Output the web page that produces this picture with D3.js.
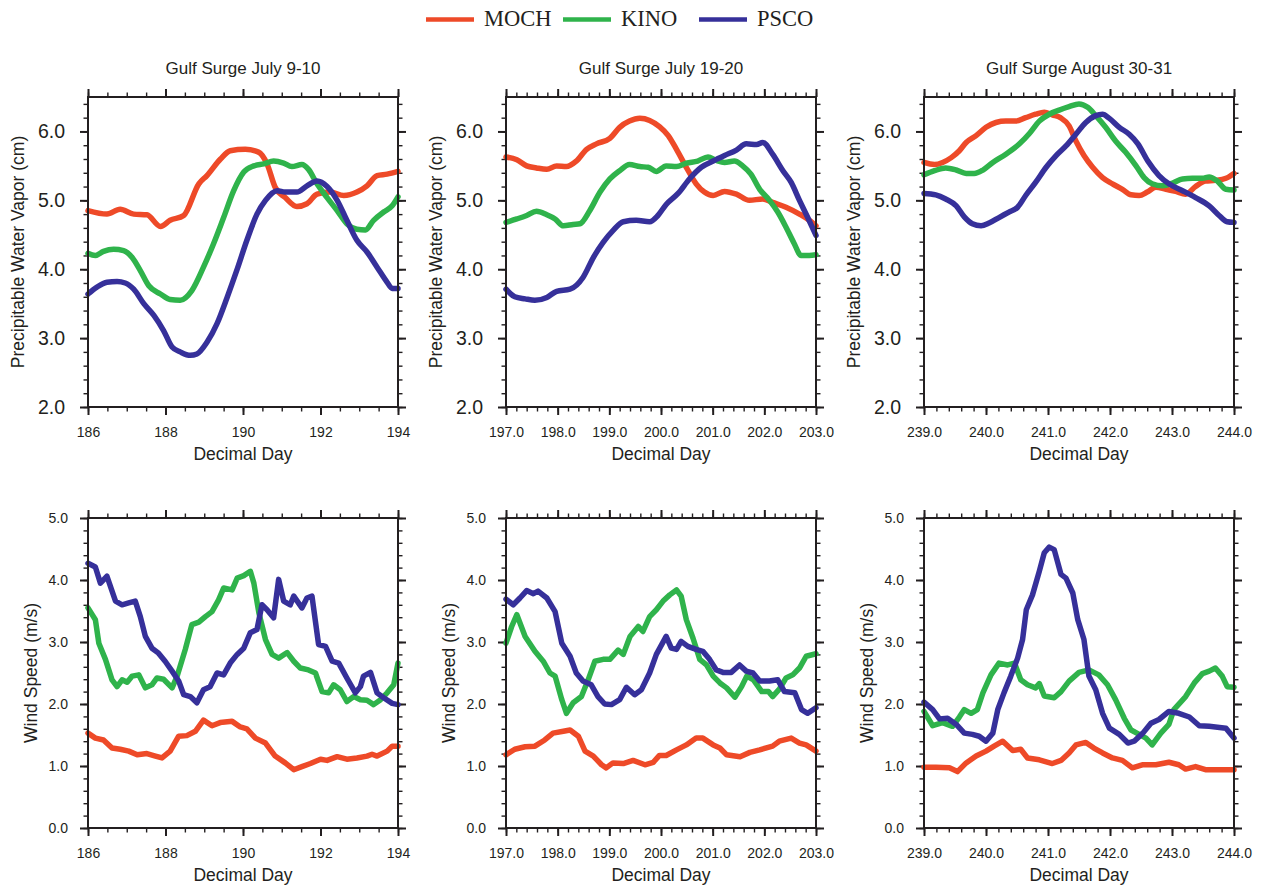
<!DOCTYPE html>
<html>
<head>
<meta charset="utf-8">
<script src="https://cdn.jsdelivr.net/npm/d3@7"></script>
<style>
  body { margin: 0; background: #fff; }
  text { font-family: "Liberation Sans", Arial, Helvetica, sans-serif; fill: #231f20; }
  text.legend { font-family: "Liberation Serif", "Times New Roman", serif; }
</style>
</head>
<body>
<svg id="chart" width="1264" height="885"></svg>
<script>
// stations + look
const stations = ["MOCH", "KINO", "PSCO"]
const colors = ["#ee4a28", "#2fb34b", "#36309a"]

// one column per surge event
const titles = ["Gulf Surge July 9-10", "Gulf Surge July 19-20", "Gulf Surge August 30-31"]
const dayRanges = [[186, 194], [197, 203], [239, 244]]
const dayMajorStep = [2, 1, 1]
const dayMinorStep = [0.5, 0.2, 0.2]
const dayFormats = ["d", ".1f", ".1f"]

const yTitles = ["Precipitable Water Vapor (cm)", "Wind Speed (m/s)"]
const yRanges = [[2, 6.5], [0, 5]]
const yMajor = [[2, 3, 4, 5, 6], [0, 1, 2, 3, 4, 5]]

// PRECIPITABLE WATER (cm), [day, value]
const mochPw1 = [[186,4.85],[186.49,4.80],[186.83,4.87],[187.18,4.80],[187.52,4.79],[187.87,4.62],[188.12,4.71],[188.47,4.78],[188.86,5.24],[189.07,5.36],[189.42,5.60],[189.67,5.72],[190.06,5.74],[190.40,5.70],[190.62,5.53],[190.83,5.19],[191.09,5.04],[191.39,4.91],[191.65,4.95],[191.91,5.09],[192.25,5.12],[192.60,5.07],[192.94,5.12],[193.20,5.21],[193.46,5.36],[193.72,5.38],[194,5.42]]
const kinoPw1 = [[186,4.23],[186.19,4.20],[186.40,4.26],[186.66,4.29],[186.92,4.27],[187.14,4.17],[187.35,3.98],[187.57,3.76],[187.87,3.64],[188.12,3.56],[188.38,3.55],[188.68,3.69],[188.98,4.03],[189.24,4.37],[189.50,4.75],[189.76,5.14],[190.02,5.41],[190.28,5.50],[190.54,5.53],[190.79,5.57],[191.05,5.54],[191.26,5.49],[191.52,5.52],[191.69,5.45],[191.91,5.24],[192.17,5.04],[192.43,4.85],[192.68,4.66],[192.94,4.58],[193.16,4.57],[193.37,4.71],[193.63,4.83],[193.85,4.92],[194,5.05]]
const pscoPw1 = [[186,3.64],[186.23,3.74],[186.49,3.81],[186.75,3.82],[186.96,3.80],[187.18,3.71],[187.44,3.50],[187.70,3.33],[187.95,3.11],[188.17,2.87],[188.38,2.80],[188.64,2.75],[188.81,2.77],[189.07,2.94],[189.33,3.21],[189.59,3.59],[189.85,4.00],[190.10,4.42],[190.36,4.80],[190.58,5.00],[190.88,5.14],[191.09,5.12],[191.39,5.12],[191.65,5.21],[191.91,5.28],[192.17,5.20],[192.43,5.00],[192.68,4.71],[192.94,4.42],[193.20,4.25],[193.46,4.03],[193.72,3.81],[193.85,3.72],[194,3.72]]

const mochPw2 = [[197,5.63],[197.21,5.59],[197.40,5.50],[197.59,5.47],[197.79,5.45],[197.98,5.50],[198.17,5.49],[198.36,5.57],[198.56,5.74],[198.75,5.82],[199.01,5.90],[199.20,6.06],[199.39,6.15],[199.59,6.19],[199.78,6.16],[199.97,6.07],[200.14,5.94],[200.30,5.74],[200.49,5.48],[200.68,5.24],[200.84,5.12],[201.01,5.07],[201.23,5.13],[201.46,5.09],[201.71,5.00],[201.97,5.02],[202.16,4.97],[202.42,4.90],[202.68,4.80],[202.87,4.71],[203,4.63]]
const kinoPw2 = [[197,4.68],[197.21,4.73],[197.40,4.78],[197.59,4.84],[197.79,4.79],[197.95,4.73],[198.11,4.63],[198.30,4.65],[198.43,4.66],[198.62,4.85],[198.82,5.12],[199.01,5.31],[199.20,5.43],[199.39,5.52],[199.59,5.49],[199.75,5.48],[199.91,5.42],[200.10,5.50],[200.30,5.49],[200.49,5.54],[200.71,5.57],[200.91,5.63],[201.07,5.58],[201.23,5.55],[201.42,5.57],[201.58,5.50],[201.74,5.38],[201.91,5.16],[202.10,5.00],[202.26,4.83],[202.42,4.61],[202.58,4.37],[202.71,4.20],[202.87,4.20],[203,4.21]]
const pscoPw2 = [[197,3.71],[197.17,3.60],[197.37,3.57],[197.56,3.55],[197.79,3.59],[197.98,3.68],[198.24,3.71],[198.49,3.88],[198.69,4.17],[198.88,4.39],[199.07,4.56],[199.27,4.69],[199.52,4.71],[199.78,4.69],[199.94,4.78],[200.10,4.94],[200.33,5.10],[200.55,5.31],[200.78,5.48],[201.01,5.57],[201.23,5.65],[201.46,5.73],[201.65,5.82],[201.85,5.81],[201.97,5.84],[202.16,5.67],[202.36,5.43],[202.52,5.26],[202.68,5.00],[202.84,4.75],[203,4.49]]

const mochPw3 = [[239,5.55],[239.17,5.52],[239.30,5.55],[239.44,5.62],[239.57,5.72],[239.68,5.84],[239.84,5.94],[240,6.06],[240.16,6.13],[240.32,6.15],[240.48,6.15],[240.64,6.20],[240.80,6.25],[240.94,6.28],[241.07,6.24],[241.20,6.20],[241.34,6.08],[241.45,5.86],[241.58,5.65],[241.72,5.48],[241.88,5.33],[242.04,5.24],[242.20,5.16],[242.34,5.08],[242.47,5.07],[242.60,5.12],[242.74,5.19],[242.90,5.16],[243.06,5.13],[243.22,5.09],[243.38,5.20],[243.54,5.28],[243.70,5.29],[243.87,5.32],[244,5.39]]
const kinoPw3 = [[239,5.37],[239.17,5.43],[239.35,5.47],[239.52,5.44],[239.68,5.39],[239.81,5.39],[239.95,5.44],[240.11,5.55],[240.32,5.67],[240.54,5.82],[240.70,5.97],[240.86,6.15],[241.02,6.25],[241.18,6.31],[241.34,6.36],[241.50,6.40],[241.64,6.35],[241.77,6.23],[241.93,6.06],[242.09,5.86],[242.25,5.70],[242.42,5.50],[242.55,5.33],[242.68,5.24],[242.85,5.21],[243.01,5.25],[243.17,5.31],[243.33,5.32],[243.49,5.32],[243.60,5.34],[243.73,5.28],[243.87,5.16],[244,5.15]]
const pscoPw3 = [[239,5.10],[239.19,5.08],[239.35,5.02],[239.52,4.92],[239.65,4.76],[239.78,4.66],[239.92,4.63],[240.05,4.67],[240.21,4.75],[240.37,4.83],[240.51,4.90],[240.64,5.07],[240.80,5.26],[240.97,5.48],[241.13,5.65],[241.29,5.79],[241.45,5.96],[241.61,6.13],[241.77,6.23],[241.88,6.25],[241.99,6.19],[242.15,6.06],[242.31,5.96],[242.45,5.82],[242.61,5.57],[242.79,5.36],[242.95,5.24],[243.17,5.14],[243.38,5.04],[243.60,4.92],[243.76,4.78],[243.89,4.69],[244,4.68]]

// WIND SPEED (m/s), [day, value]
const mochWs1 = [[186,1.53],[186.19,1.45],[186.40,1.42],[186.62,1.29],[186.83,1.27],[187.05,1.24],[187.27,1.18],[187.52,1.20],[187.74,1.16],[187.91,1.13],[188.12,1.24],[188.34,1.48],[188.55,1.49],[188.77,1.56],[188.98,1.74],[189.20,1.65],[189.41,1.70],[189.72,1.72],[189.93,1.63],[190.10,1.60],[190.32,1.45],[190.58,1.37],[190.83,1.16],[191.09,1.05],[191.31,0.94],[191.52,0.99],[191.74,1.04],[192,1.11],[192.17,1.09],[192.43,1.15],[192.68,1.11],[192.94,1.13],[193.20,1.16],[193.33,1.19],[193.46,1.16],[193.72,1.24],[193.85,1.32],[194,1.32]]
const kinoWs1 = [[186,3.55],[186.19,3.36],[186.28,2.98],[186.45,2.72],[186.62,2.39],[186.75,2.28],[186.88,2.39],[187.01,2.35],[187.14,2.45],[187.31,2.47],[187.48,2.26],[187.65,2.31],[187.78,2.42],[187.95,2.40],[188.17,2.26],[188.30,2.45],[188.51,2.88],[188.68,3.28],[188.86,3.32],[189.03,3.41],[189.20,3.49],[189.37,3.68],[189.50,3.87],[189.72,3.84],[189.85,4.03],[190.02,4.07],[190.19,4.14],[190.28,3.95],[190.41,3.47],[190.58,3.04],[190.75,2.80],[190.92,2.74],[191.14,2.83],[191.31,2.69],[191.48,2.58],[191.69,2.55],[191.87,2.50],[192.04,2.20],[192.21,2.18],[192.34,2.31],[192.51,2.23],[192.68,2.04],[192.86,2.12],[193.03,2.07],[193.20,2.06],[193.37,1.99],[193.55,2.07],[193.72,2.18],[193.89,2.31],[194,2.66]]
const pscoWs1 = [[186,4.27],[186.19,4.21],[186.32,3.95],[186.49,4.06],[186.71,3.66],[186.88,3.60],[187.05,3.63],[187.22,3.66],[187.35,3.41],[187.48,3.09],[187.65,2.90],[187.82,2.82],[187.99,2.69],[188.17,2.53],[188.34,2.37],[188.47,2.15],[188.64,2.12],[188.81,2.02],[188.98,2.23],[189.15,2.28],[189.33,2.50],[189.50,2.47],[189.67,2.66],[189.85,2.80],[190.02,2.90],[190.19,3.15],[190.36,3.20],[190.49,3.60],[190.62,3.52],[190.79,3.39],[190.92,4.01],[191.05,3.66],[191.22,3.60],[191.31,3.74],[191.52,3.55],[191.65,3.71],[191.78,3.74],[191.95,2.96],[192.13,2.93],[192.30,2.69],[192.47,2.66],[192.68,2.42],[192.90,2.18],[193.03,2.28],[193.11,2.45],[193.29,2.51],[193.46,2.18],[193.63,2.10],[193.85,2.01],[194,1.99]]

const mochWs2 = [[197,1.18],[197.17,1.27],[197.37,1.31],[197.56,1.32],[197.75,1.42],[197.91,1.53],[198.11,1.56],[198.24,1.58],[198.40,1.48],[198.53,1.24],[198.69,1.16],[198.85,1.02],[198.94,0.97],[199.07,1.05],[199.27,1.04],[199.46,1.09],[199.69,1.02],[199.85,1.06],[199.97,1.17],[200.10,1.17],[200.30,1.26],[200.49,1.34],[200.68,1.45],[200.81,1.45],[201.01,1.34],[201.14,1.29],[201.27,1.18],[201.53,1.15],[201.72,1.22],[201.91,1.26],[202.16,1.32],[202.29,1.40],[202.52,1.45],[202.68,1.37],[202.81,1.34],[203,1.24]]
const kinoWs2 = [[197,2.98],[197.11,3.25],[197.21,3.44],[197.37,3.09],[197.56,2.85],[197.72,2.69],[197.85,2.50],[197.95,2.45],[198.08,2.07],[198.17,1.85],[198.30,2.02],[198.46,2.12],[198.59,2.39],[198.72,2.69],[198.88,2.72],[199.01,2.72],[199.17,2.87],[199.27,2.80],[199.40,3.09],[199.56,3.25],[199.65,3.17],[199.78,3.41],[199.91,3.52],[200.04,3.66],[200.17,3.76],[200.30,3.84],[200.39,3.74],[200.49,3.36],[200.62,3.06],[200.75,2.72],[200.88,2.63],[201.01,2.45],[201.14,2.34],[201.27,2.26],[201.43,2.11],[201.56,2.28],[201.66,2.45],[201.79,2.39],[201.95,2.20],[202.08,2.20],[202.16,2.12],[202.29,2.24],[202.42,2.42],[202.55,2.47],[202.68,2.58],[202.81,2.77],[203,2.81]]
const pscoWs2 = [[197,3.69],[197.14,3.60],[197.27,3.71],[197.40,3.83],[197.53,3.78],[197.62,3.82],[197.79,3.71],[197.95,3.49],[198.08,2.98],[198.24,2.77],[198.36,2.50],[198.49,2.37],[198.65,2.31],[198.78,2.12],[198.91,2.00],[199.04,1.99],[199.20,2.07],[199.33,2.27],[199.49,2.15],[199.62,2.23],[199.78,2.50],[199.91,2.80],[200.10,3.09],[200.20,2.90],[200.30,2.88],[200.39,3.01],[200.52,2.93],[200.68,2.88],[200.81,2.85],[200.94,2.72],[201.07,2.55],[201.20,2.51],[201.36,2.51],[201.52,2.63],[201.65,2.53],[201.78,2.50],[201.91,2.37],[202.10,2.37],[202.26,2.39],[202.39,2.20],[202.59,2.18],[202.72,1.91],[202.84,1.85],[203,1.94]]

const mochWs3 = [[239,0.98],[239.19,0.98],[239.41,0.97],[239.54,0.91],[239.68,1.05],[239.84,1.16],[240,1.24],[240.13,1.32],[240.27,1.40],[240.43,1.25],[240.56,1.27],[240.67,1.13],[240.86,1.10],[241.07,1.04],[241.21,1.09],[241.34,1.21],[241.45,1.34],[241.61,1.38],[241.74,1.29],[241.88,1.21],[242.04,1.13],[242.20,1.09],[242.36,0.97],[242.52,1.02],[242.74,1.02],[242.95,1.06],[243.11,1.02],[243.22,0.95],[243.38,0.99],[243.54,0.94],[243.76,0.94],[244,0.94]]
const kinoWs3 = [[239,1.88],[239.14,1.65],[239.30,1.70],[239.46,1.64],[239.57,1.79],[239.65,1.91],[239.76,1.85],[239.86,1.91],[239.95,2.18],[240.08,2.47],[240.21,2.66],[240.35,2.63],[240.46,2.66],[240.56,2.39],[240.67,2.31],[240.80,2.26],[240.86,2.33],[240.94,2.13],[241.10,2.10],[241.21,2.20],[241.34,2.37],[241.50,2.51],[241.66,2.55],[241.82,2.47],[241.96,2.31],[242.09,2.07],[242.23,1.77],[242.34,1.58],[242.47,1.51],[242.58,1.45],[242.68,1.34],[242.82,1.53],[242.95,1.67],[243.03,1.91],[243.22,2.12],[243.36,2.34],[243.49,2.49],[243.60,2.53],[243.70,2.58],[243.81,2.45],[243.89,2.28],[244,2.27]]
const pscoWs3 = [[239,2.03],[239.14,1.91],[239.25,1.76],[239.38,1.77],[239.52,1.67],[239.65,1.53],[239.78,1.51],[239.89,1.48],[240,1.40],[240.11,1.53],[240.19,1.91],[240.29,2.18],[240.40,2.45],[240.51,2.74],[240.59,3.04],[240.65,3.52],[240.75,3.76],[240.86,4.14],[240.94,4.44],[241.02,4.53],[241.10,4.49],[241.21,4.09],[241.29,4.03],[241.40,3.79],[241.48,3.36],[241.58,3.04],[241.66,2.45],[241.77,2.23],[241.88,1.85],[241.99,1.61],[242.15,1.51],[242.29,1.37],[242.39,1.40],[242.53,1.53],[242.66,1.69],[242.79,1.75],[242.95,1.88],[243.11,1.85],[243.28,1.79],[243.44,1.65],[243.60,1.64],[243.70,1.63],[243.87,1.61],[244,1.45]]

const pwSeries = [[mochPw1, kinoPw1, pscoPw1], [mochPw2, kinoPw2, pscoPw2], [mochPw3, kinoPw3, pscoPw3]]
const wsSeries = [[mochWs1, kinoWs1, pscoWs1], [mochWs2, kinoWs2, pscoWs2], [mochWs3, kinoWs3, pscoWs3]]

// LAYOUT
const colLeft = [88, 506, 924]
const rowTop = [97, 518]
const W = 310, H = 310

const svg = d3.select("#chart")

function styleAxis(g, tickW) {
  g.select(".domain").remove()
  g.selectAll(".tick line").attr("stroke", "#231f20").attr("stroke-width", tickW)
}

function panel(row, col) {
  const g = svg.append("g").attr("transform", `translate(${colLeft[col]},${rowTop[row]})`)
  const x = d3.scaleLinear().domain(dayRanges[col]).range([0, W])
  const y = d3.scaleLinear().domain(yRanges[row]).range([H, 0])

  const xMaj = d3.range(dayRanges[col][0], dayRanges[col][1] + 1e-6, dayMajorStep[col])
  const xMin = d3.range(dayRanges[col][0], dayRanges[col][1] + 1e-6, dayMinorStep[col])
  const yMin = d3.range(yRanges[row][0], yRanges[row][1] + 1e-6, 0.2)

  // minor ticks on all four sides
  g.append("g").attr("transform", `translate(0,${H})`)
    .call(d3.axisBottom(x).tickValues(xMin).tickSize(4.5).tickFormat("")).call(a => styleAxis(a, 1.4))
  g.append("g")
    .call(d3.axisTop(x).tickValues(xMin).tickSize(4.5).tickFormat("")).call(a => styleAxis(a, 1.4))
  g.append("g")
    .call(d3.axisLeft(y).tickValues(yMin).tickSize(4.5).tickFormat("")).call(a => styleAxis(a, 1.4))
  g.append("g").attr("transform", `translate(${W},0)`)
    .call(d3.axisRight(y).tickValues(yMin).tickSize(4.5).tickFormat("")).call(a => styleAxis(a, 1.4))

  // major ticks
  const bottom = g.append("g").attr("transform", `translate(0,${H})`)
    .call(d3.axisBottom(x).tickValues(xMaj).tickSize(8).tickPadding(12).tickFormat(d3.format(dayFormats[col])))
    .call(a => styleAxis(a, 2))
  bottom.selectAll("text").attr("font-size", 14).attr("font-family", null)
  g.append("g")
    .call(d3.axisTop(x).tickValues(xMaj).tickSize(8).tickFormat("")).call(a => styleAxis(a, 2))
  const left = g.append("g")
    .call(d3.axisLeft(y).tickValues(yMajor[row]).tickSize(8)
      .tickPadding(row === 0 ? 15 : 12).tickFormat(d3.format(".1f")))
    .call(a => styleAxis(a, 2))
  left.selectAll("text").attr("font-size", row === 0 ? 19.5 : 14).attr("font-family", null)
  g.append("g").attr("transform", `translate(${W},0)`)
    .call(d3.axisRight(y).tickValues(yMajor[row]).tickSize(8).tickFormat("")).call(a => styleAxis(a, 2))

  // series
  const series = row === 0 ? pwSeries[col] : wsSeries[col]
  const line = d3.line()
    .x(d => x(d[0])).y(d => y(d[1]))
    .curve(row === 0 ? d3.curveMonotoneX : d3.curveLinear)
  series.forEach((s, k) => {
    g.append("path").datum(s)
      .attr("d", line)
      .attr("fill", "none")
      .attr("stroke", colors[k])
      .attr("stroke-width", 5.5)
      .attr("stroke-linejoin", "round")
      .attr("stroke-linecap", "round")
  })

  // frame
  g.append("rect").attr("width", W).attr("height", H)
    .attr("fill", "none").attr("stroke", "#231f20").attr("stroke-width", 2)

  // labels
  g.append("text").attr("x", W / 2).attr("y", H + 53)
    .attr("text-anchor", "middle").attr("font-size", 17.5).text("Decimal Day")
  g.append("text")
    .attr("transform", `translate(${row === 0 ? -64 : -51},${H / 2}) rotate(-90)`)
    .attr("text-anchor", "middle").attr("font-size", 17.5).text(yTitles[row])
  if (row === 0) {
    g.append("text").attr("x", W / 2).attr("y", -23)
      .attr("text-anchor", "middle").attr("font-size", 17).text(titles[col])
  }
}

for (let r = 0; r < 2; r++)
  for (let c = 0; c < 3; c++) panel(r, c)

// LEGEND
const legendX = [426, 563, 699]
const legend = svg.append("g")
stations.forEach((name, k) => {
  legend.append("line")
    .attr("x1", legendX[k]).attr("x2", legendX[k] + 48)
    .attr("y1", 19.5).attr("y2", 19.5)
    .attr("stroke", colors[k]).attr("stroke-width", 4.5)
  legend.append("text")
    .attr("class", "legend")
    .attr("x", legendX[k] + 58).attr("y", 25.5)
    .attr("font-size", 22.5)
    .text(name)
})
</script>
</body>
</html>
